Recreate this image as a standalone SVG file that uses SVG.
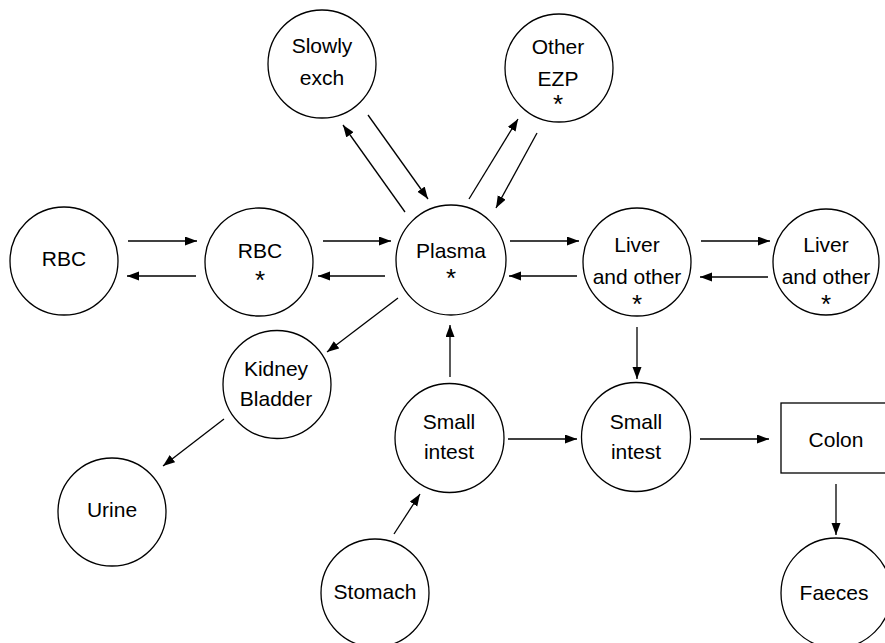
<svg xmlns="http://www.w3.org/2000/svg" width="885" height="643" viewBox="0 0 885 643">
<style>
.n{fill:#fff;stroke:#000;stroke-width:1.3}
.t{font-family:"Liberation Sans",Arial,sans-serif;font-size:21px;fill:#000;text-anchor:middle}
.s{font-family:"Liberation Sans",Arial,sans-serif;font-size:26px;fill:#000;text-anchor:middle}
.c line{stroke:#000;stroke-width:1.3;marker-end:url(#ah)}
</style>
<defs>
<marker id="ah" markerUnits="userSpaceOnUse" markerWidth="13" markerHeight="10" refX="12" refY="4.5" orient="auto">
<path d="M0,0 L12,4.5 L0,9 z" fill="#000"/>
</marker>
</defs>
<rect width="885" height="643" fill="#fff"/>
<g id="slowly"><circle class="n" cx="322" cy="64" r="54"/><text class="t" x="322" y="53">Slowly</text><text class="t" x="322" y="85">exch</text></g>
<g id="ezp"><circle class="n" cx="559" cy="68" r="54"/><text class="t" x="558" y="54">Other</text><text class="t" x="558" y="86">EZP</text><text class="s" x="558" y="113">*</text></g>
<g id="rbc1"><circle class="n" cx="64" cy="261" r="54"/><text class="t" x="64" y="265.5">RBC</text></g>
<g id="rbc2"><circle class="n" cx="259" cy="262" r="54"/><text class="t" x="260" y="258">RBC</text><text class="s" x="260" y="289">*</text></g>
<g id="plasma"><circle class="n" cx="451" cy="260" r="55"/><text class="t" x="451" y="258">Plasma</text><text class="s" x="451" y="287">*</text></g>
<g id="liver1"><circle class="n" cx="637" cy="262" r="54"/><text class="t" x="637" y="252">Liver</text><text class="t" x="637" y="284">and other</text><text class="s" x="637" y="313">*</text></g>
<g id="liver2"><circle class="n" cx="826" cy="262" r="53"/><text class="t" x="826" y="252">Liver</text><text class="t" x="826" y="284">and other</text><text class="s" x="826" y="313">*</text></g>
<g id="kidney"><circle class="n" cx="277" cy="384.5" r="54"/><text class="t" x="276" y="376">Kidney</text><text class="t" x="276" y="406">Bladder</text></g>
<g id="small1"><circle class="n" cx="449.5" cy="438" r="54.5"/><text class="t" x="449" y="429">Small</text><text class="t" x="449" y="459">intest</text></g>
<g id="small2"><circle class="n" cx="636" cy="437" r="54.5"/><text class="t" x="636" y="429">Small</text><text class="t" x="636" y="459">intest</text></g>
<g id="colon"><rect class="n" x="781" y="403" width="110" height="70"/><text class="t" x="836" y="447">Colon</text></g>
<g id="urine"><circle class="n" cx="112" cy="512" r="54"/><text class="t" x="112" y="517">Urine</text></g>
<g id="stomach"><circle class="n" cx="375" cy="593" r="54"/><text class="t" x="375" y="599">Stomach</text></g>
<g id="faeces"><circle class="n" cx="836" cy="593" r="55"/><text class="t" x="834" y="599.5">Faeces</text></g>
<g id="connectors" class="c">
<line x1="405" y1="212" x2="343" y2="125"/>
<line x1="368" y1="115" x2="428" y2="199"/>
<line x1="469" y1="199" x2="518" y2="119"/>
<line x1="537" y1="133" x2="496" y2="208"/>
<line x1="128" y1="241" x2="197" y2="241"/>
<line x1="196" y1="276" x2="127" y2="276"/>
<line x1="323" y1="241" x2="391" y2="241"/>
<line x1="385" y1="276" x2="318" y2="276"/>
<line x1="510" y1="241" x2="579" y2="241"/>
<line x1="577" y1="276" x2="509" y2="276"/>
<line x1="701" y1="241" x2="770" y2="241"/>
<line x1="768" y1="277" x2="700" y2="277"/>
<line x1="398" y1="298" x2="327" y2="352"/>
<line x1="224" y1="419" x2="163" y2="466"/>
<line x1="450" y1="377" x2="450" y2="325"/>
<line x1="394" y1="534" x2="420" y2="494"/>
<line x1="508" y1="439" x2="577" y2="439"/>
<line x1="637" y1="327" x2="637" y2="379"/>
<line x1="700" y1="439" x2="769" y2="439"/>
<line x1="836" y1="484" x2="836" y2="535"/>
</g>
</svg>
